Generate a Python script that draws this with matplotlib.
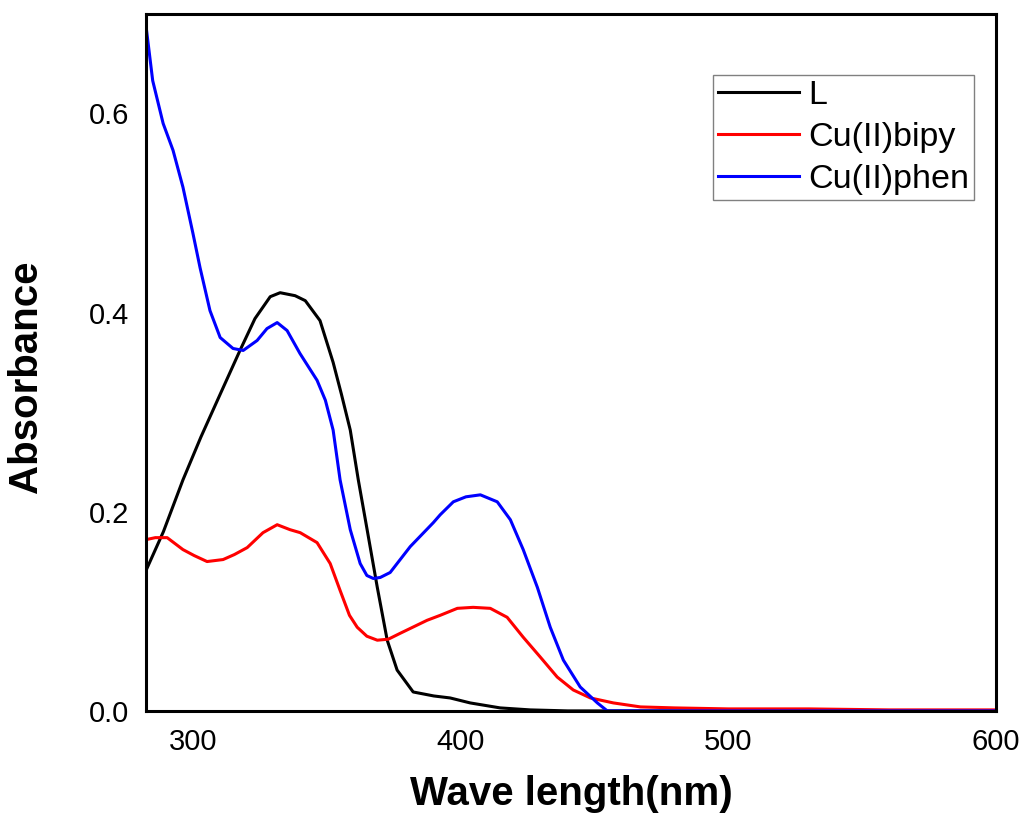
import numpy as np
import matplotlib.pyplot as plt

plt.rcParams['font.family'] = ['Liberation Sans', 'DejaVu Sans']

# Espectro do ligante L
wl_L = [282.5, 289.0, 296.3, 303.0, 310.2, 317.6, 323.2, 328.9, 332.6, 338.2,
        342.0, 347.5, 352.4, 355.5, 358.8, 361.8, 365.1, 368.9, 372.6, 376.3,
        382.3, 390.0, 396.1, 403.6, 414.8, 426.0, 440.0, 500.0, 600.0]
abs_L = [0.141, 0.180, 0.232, 0.275, 0.318, 0.362, 0.394, 0.416, 0.420, 0.417,
         0.412, 0.392, 0.350, 0.318, 0.282, 0.232, 0.182, 0.124, 0.071, 0.041,
         0.019, 0.015, 0.013, 0.008, 0.003, 0.001, 0.0, 0.0, 0.0]

# Complexo Cu(II)bipy
wl_bipy = [282.5, 286.0, 290.4, 296.3, 300.5, 305.3, 311.3, 315.5, 320.3, 326.2,
           331.5, 336.3, 340.1, 346.4, 351.3, 355.0, 358.5, 361.4, 365.0, 368.9,
           373.0, 377.5, 387.5, 392.4, 398.8, 404.7, 411.1, 417.4, 423.4, 429.8,
           436.1, 442.1, 448.5, 457.1, 467.2, 480.0, 500.0, 530.0, 560.0, 600.0]
abs_bipy = [0.172, 0.174, 0.174, 0.162, 0.156, 0.150, 0.152, 0.157, 0.164, 0.179,
            0.187, 0.182, 0.179, 0.169, 0.148, 0.121, 0.096, 0.084, 0.075, 0.071,
            0.072, 0.078, 0.091, 0.096, 0.103, 0.104, 0.103, 0.094, 0.074, 0.054,
            0.034, 0.021, 0.013, 0.008, 0.004, 0.003, 0.002, 0.002, 0.001, 0.001]

# Complexo Cu(II)phen
wl_phen = [282.5, 285.0, 288.9, 292.6, 296.3, 300.0, 302.7, 306.4, 310.2, 315.0,
           318.8, 324.0, 327.7, 331.5, 335.2, 340.0, 346.4, 349.5, 352.4, 355.0,
           358.8, 362.5, 365.0, 367.4, 370.0, 373.7, 381.2, 389.8, 392.4, 397.3,
           402.0, 407.4, 413.7, 418.6, 423.4, 428.7, 433.5, 438.4, 444.7, 451.1,
           454.8, 500.0, 600.0]
abs_phen = [0.688, 0.633, 0.590, 0.563, 0.526, 0.480, 0.445, 0.402, 0.375, 0.364,
            0.362, 0.372, 0.384, 0.390, 0.382, 0.359, 0.332, 0.312, 0.282, 0.232,
            0.182, 0.148, 0.136, 0.133, 0.134, 0.139, 0.165, 0.189, 0.197, 0.210,
            0.215, 0.217, 0.210, 0.192, 0.162, 0.124, 0.084, 0.051, 0.024, 0.008,
            0.0, 0.0, 0.0]

fig = plt.figure(figsize=(10.21, 8.19), dpi=100)
ax = fig.add_axes([0.143, 0.132, 0.8325, 0.851])

ax.plot(wl_L, abs_L, color='black', lw=2.2, label='L')
ax.plot(wl_bipy, abs_bipy, color='red', lw=2.2, label='Cu(II)bipy')
ax.plot(wl_phen, abs_phen, color='blue', lw=2.2, label='Cu(II)phen')

ax.set_xlim(282.5, 600)
ax.set_ylim(0, 0.7)
ax.set_xticks([300, 400, 500, 600])
ax.set_yticks([0.0, 0.2, 0.4, 0.6])
ax.set_yticklabels(['0.0', '0.2', '0.4', '0.6'])
ax.tick_params(length=0, labelsize=21, pad=12)
for s in ax.spines.values():
    s.set_linewidth(2.2)

ax.set_xlabel('Wave length(nm)', fontsize=29, fontweight='bold', labelpad=14)
ax.set_ylabel('Absorbance', fontsize=29, fontweight='bold')
ax.yaxis.set_label_coords(-0.119, 0.48)

leg = ax.legend(loc='upper right', bbox_to_anchor=(0.974, 0.913), fontsize=24.5,
                fancybox=False, framealpha=1, borderpad=0.15, labelspacing=0.33,
                handlelength=2.4, handletextpad=0.25, borderaxespad=0)
leg.get_frame().set_edgecolor('gray')
leg.get_frame().set_linewidth(1)

plt.savefig('out.png', dpi=100)
